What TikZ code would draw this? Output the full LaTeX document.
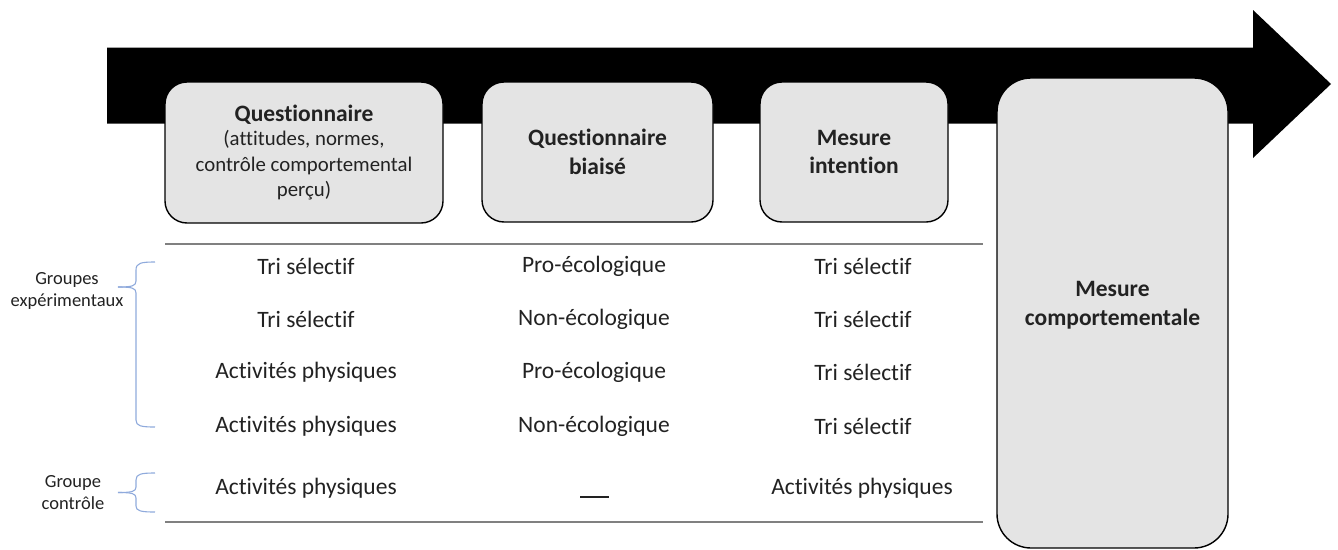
\documentclass[tikz,border=0pt]{standalone}
\usepackage{fontspec}
\setmainfont{Carlito}[Ligatures={NoCommon}]
\definecolor{boxfill}{HTML}{E4E4E4}
\definecolor{txt}{HTML}{222222}
\definecolor{rulegray}{HTML}{808080}
\definecolor{braceblue}{HTML}{8FAADC}
\tikzset{
  stepbox/.style={draw=black, line width=1.4pt, fill=boxfill, rounded corners=22pt, inner sep=0pt, text=txt, align=center},
  bigbox/.style={draw=black, line width=1.4pt, fill=boxfill, rounded corners=34pt, inner sep=0pt},
  titlefont/.style={font=\fontsize{23.5}{28.5}\selectfont\bfseries},
  celltext/.style={font=\fontsize{23.5}{28}\selectfont, text=txt, inner sep=0pt},
  grouplabel/.style={font=\fontsize{18.5}{22.5}\selectfont, text=txt, align=center, inner sep=0pt},
  tablerule/.style={draw=rulegray, line width=2.4pt},
  bracestyle/.style={draw=braceblue, line width=1.1pt},
}
\begin{document}
\begin{tikzpicture}[x=1pt,y=-1pt]
\useasboundingbox (0,0) rectangle (1338,549);
% big arrow
\fill[black] (107,47.5) -- (1253,47.5) -- (1253,10) -- (1331,84) -- (1253,158) -- (1253,123.5) -- (107,123.5) -- cycle;
% step boxes
\node[stepbox, font=\fontsize{20.8}{25.2}\selectfont, minimum width=278pt, minimum height=141pt] (b1) at (304,152.5)
  {\fontsize{23.5}{28}\selectfont\bfseries Questionnaire\\[-1pt]
   \mdseries\fontsize{20.8}{25.2}\selectfont (attitudes, normes,\\ contrôle comportemental\\ perçu)};
\node[stepbox, titlefont, minimum width=231pt, minimum height=140pt] (b2) at (597.5,152) {Questionnaire\\biaisé};
\node[stepbox, titlefont, minimum width=188pt, minimum height=140pt] (b3) at (854,152) {Mesure\\intention};
\node[bigbox, minimum width=231pt, minimum height=470pt] (b4) at (1112.5,313) {};
\node[titlefont, text=txt, align=center, inner sep=0pt] (t4) at (b4.center) [yshift=8pt] {Mesure\\comportementale};
% table rules
\coordinate (r1a) at (165,244);
\coordinate (r1b) at (983,244);
\coordinate (r2a) at (165,522);
\coordinate (r2b) at (983,522);
\draw[tablerule] (r1a) -- (r1b);
\draw[tablerule] (r2a) -- (r2b);
% rows
\node[celltext] (c11) at (306,266) {Tri sélectif};
\node[celltext] (c12) at (594,266) {Pro-écologique};
\node[celltext] (c13) at (863,266) {Tri sélectif};
\node[celltext] (c21) at (306,319) {Tri sélectif};
\node[celltext] (c22) at (594,319) {Non-écologique};
\node[celltext] (c23) at (863,319) {Tri sélectif};
\node[celltext] (c31) at (306,372.5) {Activités physiques};
\node[celltext] (c32) at (594,372.5) {Pro-écologique};
\node[celltext] (c33) at (863,372.5) {Tri sélectif};
\node[celltext] (c41) at (306,426) {Activités physiques};
\node[celltext] (c42) at (594,426) {Non-écologique};
\node[celltext] (c43) at (863,426) {Tri sélectif};
\node[celltext] (c51) at (306,488) {Activités physiques};
\node[inner sep=0pt] (c52) at (594.5,497) {\textcolor{txt}{\rule{29pt}{2.6pt}}};
\node[celltext] (c53) at (862,488) {Activités physiques};
% group labels
\node[grouplabel] (g1) at (67,291) {Groupes\\expérimentaux};
\node[grouplabel] (g2) at (73,492.5) {Groupe\\contrôle};
% braces
\coordinate (e1t) at (155,262);
\coordinate (e1m) at (118,287);
\coordinate (e1b) at (155,427);
\draw[bracestyle] (e1t) .. controls (141,262) and (136,263) .. (136,270) -- (136,281)
  .. controls (136,286) and (132,287) .. (e1m);
\draw[bracestyle] (e1m) .. controls (132,287) and (136,288) .. (136,293) -- (136,420)
  .. controls (136,426) and (141,427) .. (e1b);
\coordinate (e2t) at (155,473);
\coordinate (e2m) at (118,492.5);
\coordinate (e2b) at (155,512);
\draw[bracestyle] (e2t) .. controls (141,473) and (136,474) .. (136,480) -- (136,487)
  .. controls (136,491.5) and (132,492.5) .. (e2m);
\draw[bracestyle] (e2m) .. controls (132,492.5) and (136,493.5) .. (136,498) -- (136,506)
  .. controls (136,511) and (141,512) .. (e2b);
\end{tikzpicture}
\end{document}
